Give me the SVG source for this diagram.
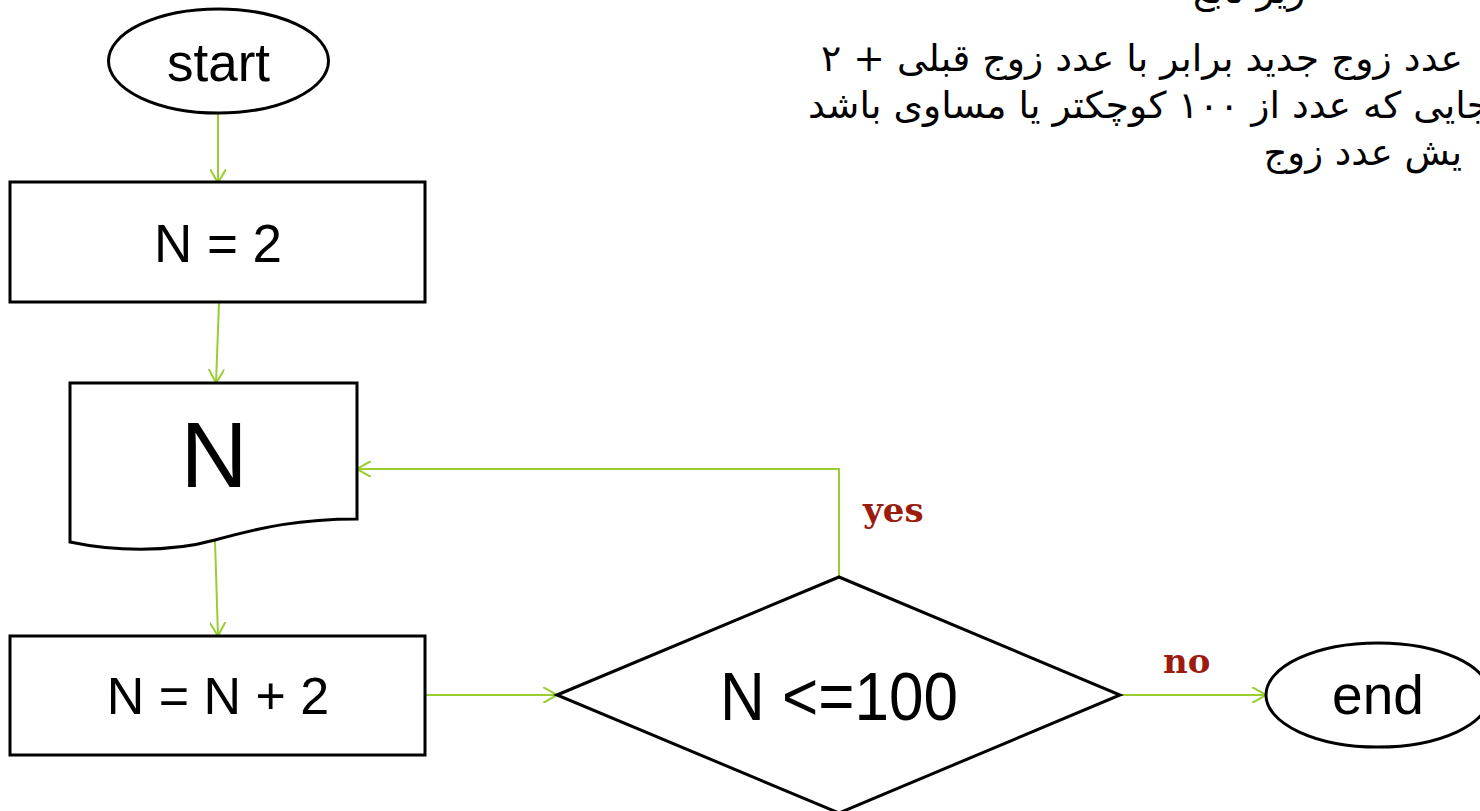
<svg xmlns="http://www.w3.org/2000/svg" width="1480" height="811" viewBox="0 0 1480 811">
<style>
.shape{fill:#fff;stroke:#000;stroke-width:3}
.lbl{font-family:"Liberation Sans",Arial,sans-serif;fill:#000;text-anchor:middle}
.conn{fill:none;stroke:#9acd32;stroke-width:2}
.yn{font-family:"DejaVu Serif","Liberation Serif",serif;font-weight:bold;font-size:34px;fill:#9b1c0e}
.fa{font-family:"DejaVu Sans","Noto Sans",sans-serif;font-size:37px;fill:#000}
</style>
<defs>
<marker id="arr" viewBox="0 0 14 16" refX="14" refY="8" markerWidth="14" markerHeight="16" markerUnits="userSpaceOnUse" orient="auto">
<path d="M0,0 L14,8 L0,16" fill="none" stroke="#9acd32" stroke-width="2"/>
</marker>
</defs>
<rect width="1480" height="811" fill="#fff"/>
<g id="notes">
<text class="fa" x="1305" y="3" direction="rtl" text-anchor="start">زیر تابع</text>
<text class="fa" x="1463" y="71" direction="rtl" text-anchor="start" textLength="642" lengthAdjust="spacingAndGlyphs">عدد زوج جدید برابر با عدد زوج قبلی + ۲</text>
<text class="fa" x="1490" y="118" direction="rtl" text-anchor="start" textLength="682" lengthAdjust="spacingAndGlyphs">جایی که عدد از ۱۰۰ کوچکتر یا مساوی باشد</text>
<text class="fa" x="1462" y="165" direction="rtl" text-anchor="start">یش عدد زوج</text>
</g>
<g id="connectors">
<line class="conn" x1="218" y1="114" x2="218" y2="183" marker-end="url(#arr)"/>
<line class="conn" x1="219" y1="303" x2="216" y2="383" marker-end="url(#arr)"/>
<line class="conn" x1="215" y1="541" x2="218" y2="636" marker-end="url(#arr)"/>
<line class="conn" x1="426" y1="695" x2="557" y2="695" marker-end="url(#arr)"/>
<polyline class="conn" points="839,577 839,469 357,469" marker-end="url(#arr)"/>
<line class="conn" x1="1120" y1="695" x2="1266" y2="695" marker-end="url(#arr)"/>
<text class="yn" x="863" y="522">yes</text>
<text class="yn" x="1163" y="673">no</text>
</g>
<g id="start">
<ellipse class="shape" cx="218.5" cy="61" rx="110" ry="52"/>
<text class="lbl" x="218.5" y="81" font-size="53">start</text>
</g>
<g id="init">
<rect class="shape" x="10" y="182" width="415" height="120"/>
<text class="lbl" x="218" y="262" font-size="53">N = 2</text>
</g>
<g id="output">
<path class="shape" d="M70,383 H357 V519 C300,519 262,527 215,540 C168,553 112,551 70,542 Z"/>
<text class="lbl" x="214" y="487" font-size="93">N</text>
</g>
<g id="increment">
<rect class="shape" x="10" y="636" width="415" height="119"/>
<text class="lbl" x="218" y="714" font-size="52">N = N + 2</text>
</g>
<g id="decision">
<polygon class="shape" points="557,695 839,577 1120,695 839,813"/>
<text class="lbl" x="839" y="720" font-size="68" textLength="238" lengthAdjust="spacingAndGlyphs">N &lt;=100</text>
</g>
<g id="end">
<ellipse class="shape" cx="1378" cy="695" rx="112" ry="52"/>
<text class="lbl" x="1378" y="714" font-size="55">end</text>
</g>
</svg>
